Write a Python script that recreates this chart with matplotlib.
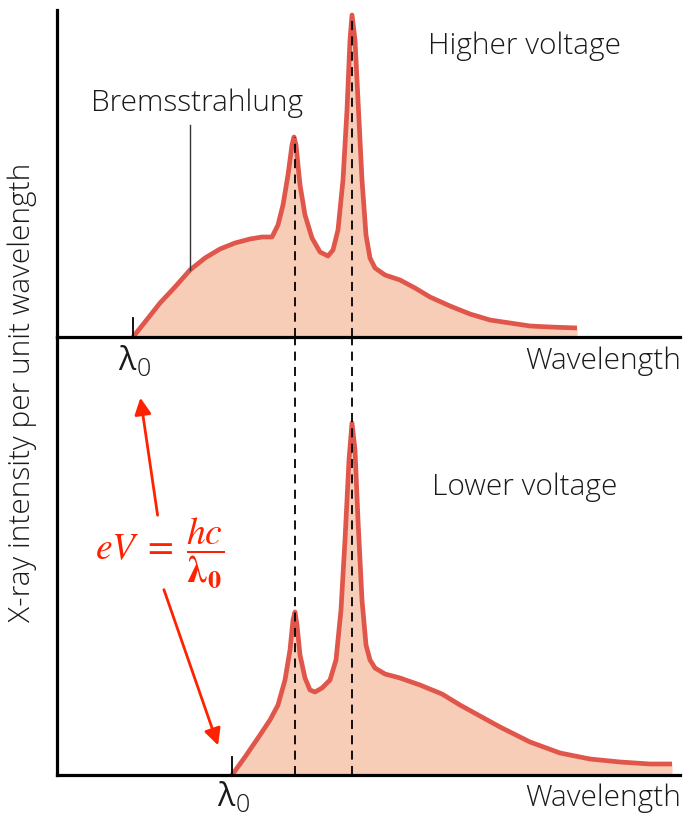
import matplotlib
matplotlib.use("Agg")
import matplotlib.pyplot as plt

W, H = 684, 817
plt.rcParams['font.family'] = ['Open Sans', 'DejaVu Sans']
plt.rcParams['mathtext.fontset'] = 'stix'

# ---- data (wavelength in arbitrary units, intensity in arbitrary units) ----
high_wl = [133, 145, 160, 175, 190, 205, 220, 235, 250, 262, 272, 278, 283, 288, 292, 294, 296, 300, 305,
           312, 320, 328, 333, 338, 343, 347, 350, 352, 355, 358, 362, 366, 370, 375, 385, 400, 415, 430,
           450, 470, 490, 510, 530, 550, 577]
high_int = [0, 15, 34, 50, 67, 79, 88, 94, 98, 100, 100, 112, 132, 162, 192, 200, 192, 152, 122,
            99, 85, 81, 87, 107, 157, 227, 297, 322, 297, 237, 157, 102, 79, 69, 62, 57, 49, 40,
            31, 23, 17, 14, 11, 10, 9]

low_wl = [232, 245, 258, 270, 278, 285, 290, 293, 295, 297, 300, 305, 310, 315, 322, 330, 336, 341, 345,
          349, 352, 355, 358, 362, 366, 370, 375, 385, 400, 420, 442, 460, 480, 500, 530, 560, 590, 620,
          650, 672]
low_int = [0, 18, 37, 55, 70, 95, 125, 155, 163, 150, 120, 97, 85, 83, 87, 95, 115, 165, 235,
           315, 352, 325, 255, 175, 130, 115, 107, 101, 97, 90, 81, 70, 59, 48, 33, 22, 16, 13,
           11, 11]

line_wl = [295, 352]            # characteristic lines
lambda0_high = 133
lambda0_low = 232

LINE = '#e0564a'
FILL = '#f8cdb8'
TXT = '#1a1a1a'

fig = plt.figure(figsize=(W / 100, H / 100), dpi=100)

def fx(x): return x / W
def fy(y): return 1 - y / H

L, R = 57, 680
top_ax = fig.add_axes([fx(L), fy(337), (R - L) / W, (337 - 10) / H])
bot_ax = fig.add_axes([fx(L), fy(775), (R - L) / W, (775 - 337) / H])

for ax, top in ((top_ax, 337 - 10), (bot_ax, 775 - 337)):
    ax.set_xlim(L, R)
    ax.set_ylim(0, top)
    ax.set_xticks([])
    ax.set_yticks([])
    for s in ('top', 'right'):
        ax.spines[s].set_visible(False)
    ax.spines['left'].set_linewidth(2.3)
    ax.spines['bottom'].set_linewidth(2.3)
    ax.patch.set_alpha(0)

top_ax.spines['bottom'].set_zorder(5)

# top panel
top_ax.fill_between(high_wl, high_int, 0, color=FILL, lw=0, zorder=1)
top_ax.plot(high_wl, high_int, color=LINE, lw=3.4, solid_capstyle='butt', solid_joinstyle='round', zorder=2)
peak_heights = [200, 322]
for xw, ph in zip(line_wl, peak_heights):
    top_ax.plot([xw, xw], [0, ph], color='black', lw=1.3, dashes=(5, 3.5), zorder=3)
top_ax.plot([lambda0_high, lambda0_high], [0, 19], color='black', lw=1.3, zorder=4)
top_ax.plot([190, 190], [67, 212], color='#333333', lw=1.0, zorder=4)

# bottom panel
bot_ax.fill_between(low_wl, low_int, 0, color=FILL, lw=0, zorder=1)
bot_ax.plot(low_wl, low_int, color=LINE, lw=3.4, solid_capstyle='butt', solid_joinstyle='round', zorder=2)
for xw in line_wl:
    bot_ax.plot([xw, xw], [0, 775 - 337], color='black', lw=1.3, dashes=(5, 3.5), zorder=3)
bot_ax.plot([lambda0_low, lambda0_low], [0, 18], color='black', lw=1.3, zorder=4)

FS = 21.5
kw = dict(fontsize=FS, color=TXT, fontweight='light')
fig.text(fx(525), fy(46), 'Higher voltage', ha='center', va='center', **kw)
fig.text(fx(525), fy(487), 'Lower voltage', ha='center', va='center', **kw)
fig.text(fx(197), fy(103), 'Bremsstrahlung', ha='center', va='center', **kw)
fig.text(fx(681), fy(361), 'Wavelength', ha='right', va='center', **kw)
fig.text(fx(681), fy(798), 'Wavelength', ha='right', va='center', **kw)
fig.text(fx(22), fy(392), 'X-ray intensity per unit wavelength', ha='center', va='center',
         rotation=90, **kw)

# lambda_0 labels
for xc, yc in ((127, 362), (226, 798)):
    fig.text(fx(xc), fy(yc), 'λ', ha='center', va='center', fontsize=23, color=TXT)
    fig.text(fx(xc + 17), fy(yc + 8), '0', ha='center', va='center', fontsize=18, color=TXT,
             fontweight='light')

RED = '#ff2200'
fig.text(fx(160), fy(553), r'$eV\;=\;\dfrac{hc}{\mathbf{\lambda_0}}$', ha='center', va='center',
         fontsize=27, color=RED)

fig.add_artist(matplotlib.patches.FancyArrowPatch(
    (fx(158), fy(518)), (fx(140), fy(395)), transform=fig.transFigure,
    arrowstyle='-|>,head_length=10,head_width=5', color=RED, lw=2.0, mutation_scale=1))
fig.add_artist(matplotlib.patches.FancyArrowPatch(
    (fx(163), fy(587)), (fx(219), fy(748)), transform=fig.transFigure,
    arrowstyle='-|>,head_length=10,head_width=5', color=RED, lw=2.0, mutation_scale=1))

fig.savefig('out.png', dpi=100)
